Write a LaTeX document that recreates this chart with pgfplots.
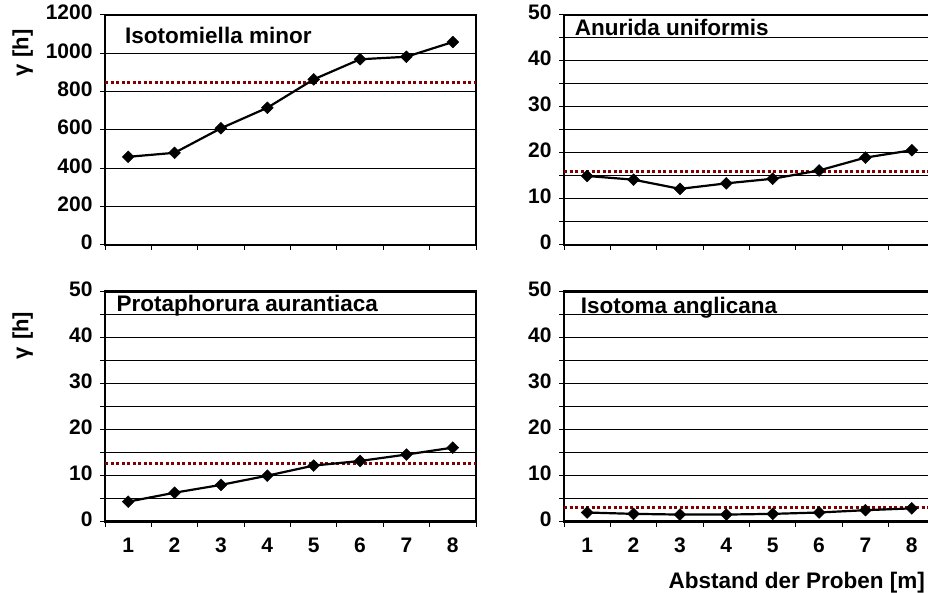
\documentclass[border=0pt]{standalone}
\usepackage{pgfplots}
\pgfplotsset{compat=1.18}
\usepackage{fontspec}
\setmainfont{Liberation Sans}

\definecolor{meanred}{RGB}{128,0,0}

\tikzset{
  paneltitle/.style={anchor=base west, font=\fontsize{22.5}{26}\selectfont\bfseries},
}

\pgfplotsset{
  panel/.style={
    scale only axis, width=371pt, height=230pt,
    xmin=0.5, xmax=8.5,
    axis line style={line width=2.6pt},
    xtick={1,...,8},
    major x tick style={draw=none},
    minor xtick={0.5,1.5,...,8.5},
    tick align=outside, tick pos=left,
    major tick length=5pt, minor tick length=5pt,
    tick style={black, line width=1pt},
    ymajorgrids,
    grid style={black, line width=1pt},
    tick label style={font=\fontsize{21}{25}\selectfont\bfseries},
    /pgf/number format/assume math mode=true,
    /pgf/number format/1000 sep={},
    typeset ticklabels with strut,
    xticklabel style={yshift=-5pt},
    yticklabel style={xshift=-4pt},
  },
  small panel/.style={
    panel, ymin=0, ymax=50,
    ytick={0,10,...,50}, minor ytick={5,15,...,45}, yminorgrids,
  },
  no xlabels/.style={xticklabel=\empty},
  gammalabel/.style={
    ylabel={γ\hspace{7pt}[h]},
    ylabel style={at={(axis description cs:-0.222,#1)}, anchor=center,
      font=\fontsize{22}{26}\selectfont\bfseries},
  },
  meanline/.style={meanred, line width=3pt, dash pattern=on 3pt off 2.5pt, forget plot},
  series/.style={black, line width=2.2pt, mark=square*,
    mark size=4.2pt, mark options={solid, rotate=45, line width=0.4pt}},
}

\begin{document}
\begin{tikzpicture}
\path[use as bounding box] (0,0) rectangle (928pt,593pt);
\clip (0,0) rectangle (928pt,593pt);

% top left: Isotomiella minor
\begin{axis}[panel, at={(105pt,348pt)}, anchor=south west,
  ymin=0, ymax=1200, ytick={0,200,...,1200},
  no xlabels, gammalabel=0.835]
  \addplot[meanline] coordinates {(0.5,849) (8.5,849)};
  \addplot[series] coordinates {(1,460) (2,481) (3,609) (4,716) (5,864) (6,969) (7,982) (8,1059)};
  \node[paneltitle] at (rel axis cs:0.045,0.878) {Isotomiella minor};
\end{axis}

% top right: Anurida uniformis
\begin{axis}[small panel, at={(564pt,348pt)}, anchor=south west,
  no xlabels]
  \addplot[meanline] coordinates {(0.5,16.05) (8.5,16.05)};
  \addplot[series] coordinates {(1,15.0) (2,14.2) (3,12.2) (4,13.4) (5,14.4) (6,16.2) (7,19.0) (8,20.6)};
  \node[paneltitle] at (rel axis cs:0.02,0.911) {Anurida uniformis};
\end{axis}

% bottom left: Protaphorura aurantiaca
\begin{axis}[small panel, at={(105pt,71.3pt)}, anchor=south west,
  gammalabel=0.81]
  \addplot[meanline] coordinates {(0.5,12.6) (8.5,12.6)};
  \addplot[series] coordinates {(1,4.35) (2,6.3) (3,8.0) (4,10.0) (5,12.2) (6,13.2) (7,14.6) (8,16.1)};
  \node[paneltitle] at (rel axis cs:0.022,0.913) {Protaphorura aurantiaca};
\end{axis}

% bottom right: Isotoma anglicana
\begin{axis}[small panel, at={(564pt,71.3pt)}, anchor=south west,
  xlabel={Abstand der Proben [m]},
  xlabel style={at={(axis description cs:0.982,-0.291)}, anchor=base east,
    font=\fontsize{22.5}{26}\selectfont\bfseries}]
  \addplot[meanline] coordinates {(0.5,3.1) (8.5,3.1)};
  \addplot[series] coordinates {(1,2.0) (2,1.7) (3,1.55) (4,1.55) (5,1.7) (6,2.0) (7,2.5) (8,2.9)};
  \node[paneltitle] at (rel axis cs:0.036,0.906) {Isotoma anglicana};
\end{axis}
\end{tikzpicture}
\end{document}
